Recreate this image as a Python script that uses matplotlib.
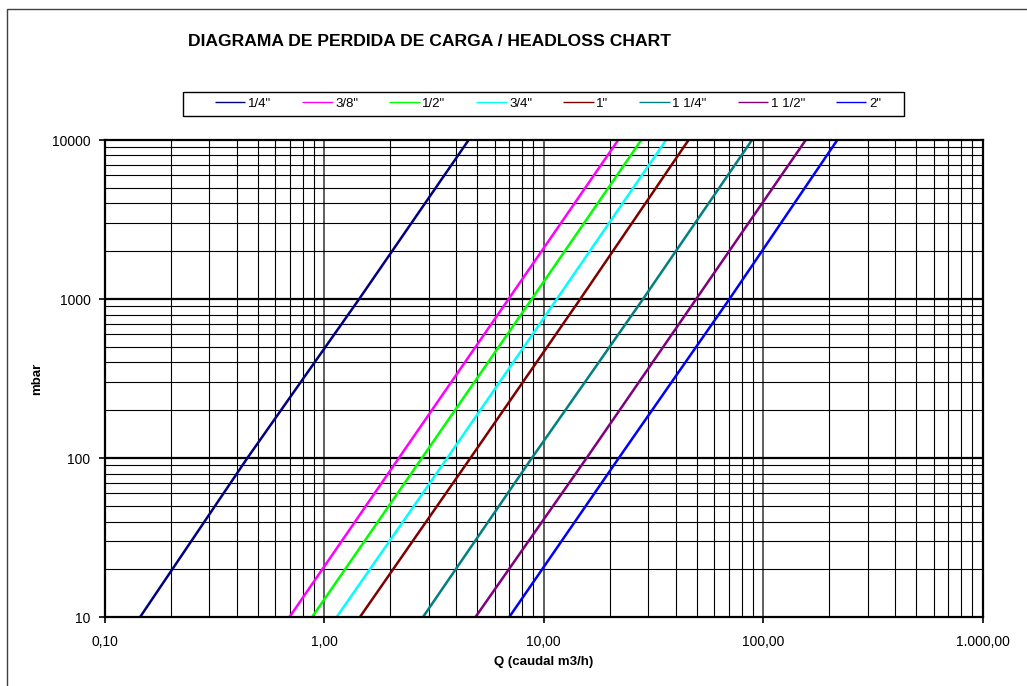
import matplotlib
matplotlib.use("Agg")
import matplotlib.pyplot as plt
from matplotlib.patches import Rectangle
from matplotlib.ticker import FixedLocator, NullFormatter

plt.rcParams['font.family'] = ['Liberation Sans', 'DejaVu Sans']

# ---- data ----
mbar = [10, 100, 1000, 10000]
series_names = ['1/4"', '3/8"', '1/2"', '3/4"', '1"', '1 1/4"', '1 1/2"', '2"']
q_14 = [0.145, 0.447, 1.445, 4.56]
q_38 = [0.695, 2.19, 6.93, 21.9]
q_12 = [0.881, 2.79, 8.84, 27.9]
q_34 = [1.14, 3.64, 11.5, 36.2]
q_1 = [1.455, 4.64, 14.7, 45.8]
q_114 = [2.82, 8.84, 28.4, 89.1]
q_112 = [4.89, 15.7, 49.6, 156.6]
q_2 = [6.97, 22.0, 70.3, 218.0]
series_q = [q_14, q_38, q_12, q_34, q_1, q_114, q_112, q_2]
colors = ['#000080', '#FF00FF', '#00FF00', '#00FFFF', '#800000', '#008080', '#800080', '#0000FF']

x_ticks = [0.1, 1, 10, 100, 1000]
x_ticklabels = ['0,10', '1,00', '10,00', '100,00', '1.000,00']
y_ticks = [10, 100, 1000, 10000]
y_ticklabels = ['10', '100', '1000', '10000']

title = 'DIAGRAMA DE PERDIDA DE CARGA / HEADLOSS CHART'
xlabel = 'Q (caudal m3/h)'
ylabel = 'mbar'

# ---- figure ----
W, H = 1027, 686
fig = plt.figure(figsize=(W / 100, H / 100), dpi=100)
fig.patches.append(Rectangle((7/W, -10/H), 1040/W, 687/H, transform=fig.transFigure,
                             fill=False, edgecolor='#404040', linewidth=1.0))

ax = fig.add_axes([104.5/W, 68.7/H, 878/W, 477.3/H])
ax.set_xscale('log')
ax.set_yscale('log')
ax.set_xlim(0.1, 1000)
ax.set_ylim(10, 10000)

# grid
minor_x = [m * 10.0**d for d in range(-1, 3) for m in range(2, 10)]
minor_y = [m * 10.0**d for d in range(1, 4) for m in range(2, 10)]
for v in minor_x:
    ax.axvline(v, color='black', lw=0.8, zorder=1)
for v in [1, 10, 100]:
    ax.axvline(v, color='#333333', lw=1.1, zorder=1)
for v in minor_y:
    ax.axhline(v, color='black', lw=0.8, zorder=1)
for v in [100, 1000]:
    ax.axhline(v, color='black', lw=1.6, zorder=1)

lines = []
for name, q, c in zip(series_names, series_q, colors):
    ln, = ax.plot(q, mbar, color=c, lw=1.8, label=name, zorder=3, solid_capstyle='butt')
    lines.append(ln)

ax.xaxis.set_major_locator(FixedLocator(x_ticks))
ax.set_xticklabels(x_ticklabels)
ax.xaxis.set_minor_locator(FixedLocator([]))
ax.xaxis.set_minor_formatter(NullFormatter())
ax.yaxis.set_major_locator(FixedLocator(y_ticks))
ax.set_yticklabels(y_ticklabels)
ax.yaxis.set_minor_locator(FixedLocator([]))
ax.yaxis.set_minor_formatter(NullFormatter())
ax.tick_params(axis='both', which='major', direction='out', length=4, width=1.2,
               labelsize=10, colors='black')
ax.tick_params(axis='x', pad=9)
ax.tick_params(axis='y', pad=6)
for s in ax.spines.values():
    s.set_linewidth(1.6)
    s.set_color('black')
    s.set_zorder(4)

ax.set_xlabel(xlabel, fontsize=9.5, fontweight='bold')
ax.xaxis.set_label_coords(0.5, -(662 - 617.3) / 477.3)
ax.xaxis.label.set_va('center')
ax.set_ylabel(ylabel, fontsize=9.5, fontweight='bold')
ax.yaxis.set_label_coords(-(104.5 - 37) / 878, 0.5)
ax.yaxis.label.set_va('center')

fig.text(188/W, 1 - 41/H, title, fontsize=12.6, fontweight='bold', ha='left', va='center')

# legend frame drawn separately
fig.patches.append(Rectangle((183/W, 1 - 116/H), 721/W, 24/H, transform=fig.transFigure,
                             fill=False, edgecolor='black', linewidth=1.0))
leg = fig.legend(handles=lines, loc='center', bbox_to_anchor=(548/W, 1 - 104/H),
                 ncol=8, fontsize=9.5, frameon=False,
                 handlelength=2.3, handletextpad=0.2, columnspacing=2.35,
                 borderpad=0.0, borderaxespad=0)
for l in leg.get_lines():
    l.set_linewidth(1.0)

fig.savefig('out.png', dpi=100)
